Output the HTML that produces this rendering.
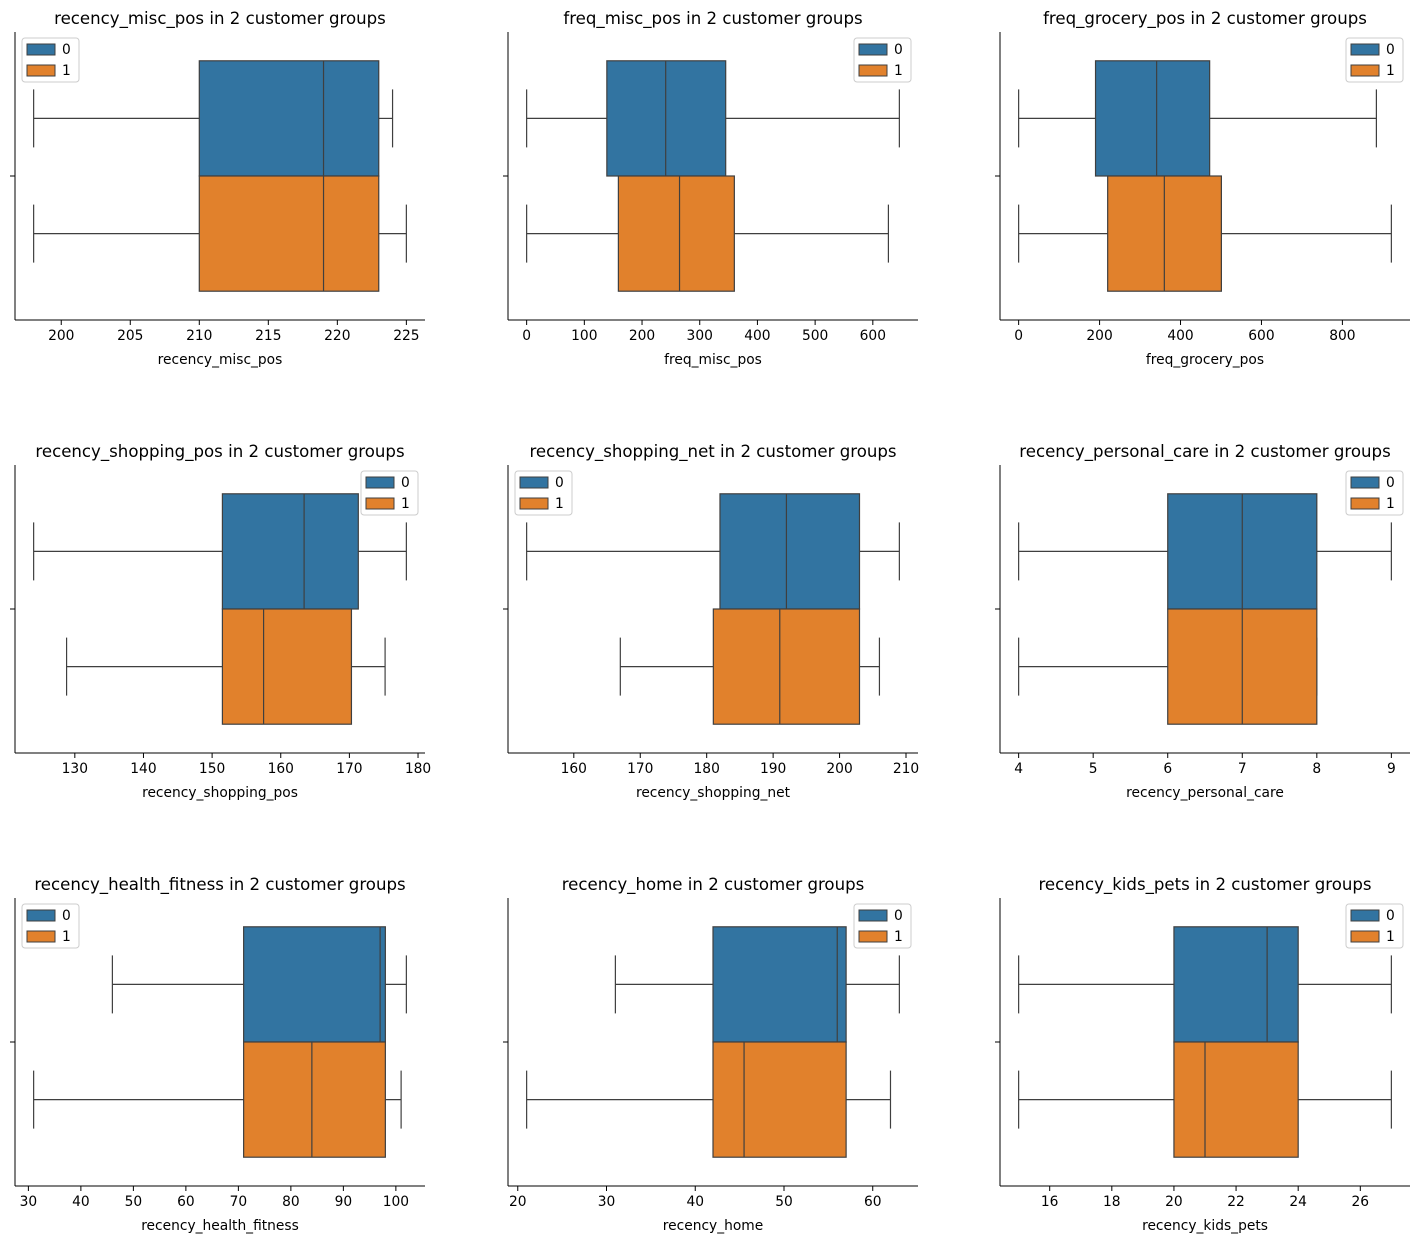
<!DOCTYPE html>
<html><head><meta charset="utf-8"><style>
body{margin:0;background:#fff;}
svg{display:block;font-family:"DejaVu Sans","Liberation Sans",sans-serif;}
</style></head><body>
<svg id="chart" width="1419" height="1242" viewBox="0 0 1419 1242" xmlns="http://www.w3.org/2000/svg"></svg>
<script>
// ---- data ----
const features = ["recency_misc_pos","freq_misc_pos","freq_grocery_pos","recency_shopping_pos","recency_shopping_net","recency_personal_care","recency_health_fitness","recency_home","recency_kids_pets"];
// [whisker-low, q1, median, q3, whisker-high]
const group0Stats = [
  [198,210,219,223,224],
  [0,139,241,345,646],
  [0,190,341,472,884],
  [124,151.5,163.4,171.3,178.3],
  [152.9,182,192,203,209],
  [4,6,7,8,9],
  [46,71,97,98,102],
  [31,42,56,57,63],
  [15,20,23,24,27]
];
const group1Stats = [
  [198,210,219,223,225],
  [0,159,265,360,627],
  [0,220,360,501,921],
  [128.8,151.5,157.5,170.3,175.2],
  [167,181,191,203,206],
  [4,6,7,8,8],
  [31,71,84,98,101],
  [21,42,45.5,57,62],
  [15,20,21,24,27]
];
const tickLabels = [
  [200,205,210,215,220,225],
  [0,100,200,300,400,500,600],
  [0,200,400,600,800],
  [130,140,150,160,170,180],
  [160,170,180,190,200,210],
  [4,5,6,7,8,9],
  [30,40,50,60,70,80,90,100],
  [20,30,40,50,60],
  [16,18,20,22,24,26]
];
const legendSide = ["left","right","right","right","left","right","left","right","right"];
const groups = ["0","1"];
const colors = ["#3274a1","#e1812c"];

const NS="http://www.w3.org/2000/svg";
const svg=document.getElementById("chart");
function mk(tag,attrs,parent){const e=document.createElementNS(NS,tag);for(const k in attrs)e.setAttribute(k,attrs[k]);(parent||svg).appendChild(e);return e;}
const colX=[15,508,1000], rowY=[32,465,898], W=410, H=288;
const edge="#3f3f3f";

features.forEach((f,i)=>{
  const ax=colX[i%3], ay=rowY[Math.floor(i/3)];
  const g=mk("g",{});
  
  
  const all=group0Stats[i].concat(group1Stats[i]);
  const mn=Math.min(...all), mxv=Math.max(...all), m=(mxv-mn)*0.05;
  const lo=mn-m, hi=mxv+m;
  const xs=v=>ax+(v-lo)/(hi-lo)*W;
  const ys=v=>ay+(v+0.5)*H;
  [group0Stats[i],group1Stats[i]].forEach((s,gi)=>{
    const y0=ys(gi===0?-0.4:0), y1=ys(gi===0?0:0.4), yc=(y0+y1)/2;
    const bg=mk("g",{},g);
    
    
    mk("line",{x1:xs(s[0]),x2:xs(s[1]),y1:yc,y2:yc,stroke:edge,"stroke-width":1.2},bg);
    mk("line",{x1:xs(s[3]),x2:xs(s[4]),y1:yc,y2:yc,stroke:edge,"stroke-width":1.2},bg);
    mk("line",{x1:xs(s[0]),x2:xs(s[0]),y1:yc-29,y2:yc+29,stroke:edge,"stroke-width":1.2},bg);
    mk("line",{x1:xs(s[4]),x2:xs(s[4]),y1:yc-29,y2:yc+29,stroke:edge,"stroke-width":1.2},bg);
    mk("rect",{x:xs(s[1]),y:y0,width:xs(s[3])-xs(s[1]),height:y1-y0,fill:colors[gi],stroke:edge,"stroke-width":1.2},bg);
    mk("line",{x1:xs(s[2]),x2:xs(s[2]),y1:y0,y2:y1,stroke:edge,"stroke-width":1.2},bg);
  });
  mk("line",{x1:ax,x2:ax,y1:ay,y2:ay+H,stroke:"#000","stroke-width":1},g);
  mk("line",{x1:ax,x2:ax+W,y1:ay+H,y2:ay+H,stroke:"#000","stroke-width":1},g);
  mk("line",{x1:ax-5,x2:ax,y1:ys(0),y2:ys(0),stroke:"#000","stroke-width":1},g);
  tickLabels[i].forEach(t=>{
    const x=xs(t);
    mk("line",{x1:x,x2:x,y1:ay+H,y2:ay+H+5,stroke:"#000","stroke-width":1},g);
    const tx=mk("text",{x:x,y:ay+H+20,"text-anchor":"middle","font-size":13.8,fill:"#000"},g);
    tx.textContent=t;
    
    
  });
  const xl=mk("text",{x:ax+W/2,y:ay+H+44,"text-anchor":"middle","font-size":13.8,fill:"#000"},g);
  xl.textContent=f;
  
  
  const tt=mk("text",{x:ax+W/2,y:ay-8,"text-anchor":"middle","font-size":16.6,fill:"#000"},g);
  tt.textContent=f+" in 2 customer groups";
  
  
  const lw=57, lx=legendSide[i]==="left"?ax+7:ax+W-7-lw, ly=ay+6;
  const lg=mk("g",{},g);
  
  
  mk("rect",{x:lx,y:ly,width:lw,height:44,rx:3,fill:"#fff","fill-opacity":0.8,stroke:"#cccccc"},lg);
  groups.forEach((gname,gi)=>{
    const e=mk("g",{},lg);
    
    
    mk("rect",{x:lx+5,y:ly+6+gi*21,width:28,height:11,fill:colors[gi],stroke:edge,"stroke-width":1},e);
    const t=mk("text",{x:lx+40,y:ly+16+gi*21,"font-size":13.8,fill:"#000"},e);
    t.textContent=gname;
  });
});
</script>
</body></html>
